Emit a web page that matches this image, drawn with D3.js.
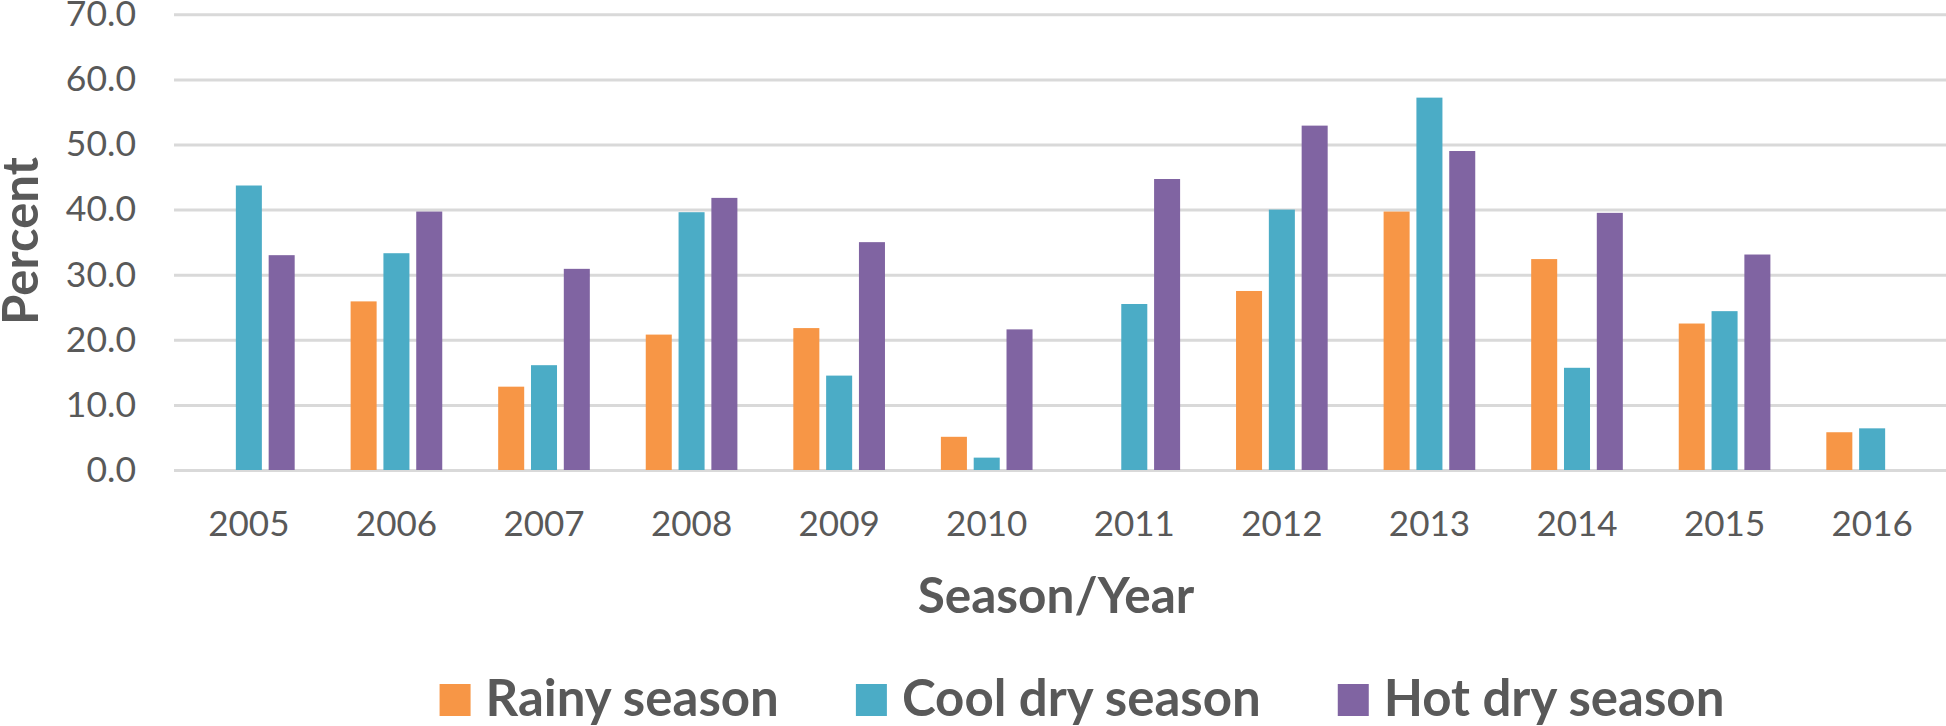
<!DOCTYPE html>
<html>
<head>
<meta charset="utf-8">
<script src="https://cdn.jsdelivr.net/npm/d3@7"></script>
<style>
  body { margin: 0; background: #fff; }
  text { font-family: Lato, "Open Sans", sans-serif; fill: #595959; }
</style>
</head>
<body>
<div id="vis"></div>
<script>
// data
var years = ["2005","2006","2007","2008","2009","2010","2011","2012","2013","2014","2015","2016"];
var seriesNames = ["Rainy season", "Cool dry season", "Hot dry season"];
var seriesColors = ["#F79646", "#4BACC6", "#8064A2"];
var rainy   = [null, 25.9, 12.8, 20.8, 21.8, 5.1, null, 27.5, 39.7, 32.4, 22.5, 5.8];
var coolDry = [43.7, 33.3, 16.1, 39.6, 14.5, 1.9, 25.5, 40.0, 57.2, 15.7, 24.4, 6.4];
var hotDry  = [33.0, 39.7, 30.9, 41.8, 35.0, 21.6, 44.7, 52.9, 49.0, 39.5, 33.1, null];
var yTicks = [0, 10, 20, 30, 40, 50, 60, 70];

var width = 1946, height = 726;
var svg = d3.select("#vis").append("svg")
    .attr("width", width)
    .attr("height", height);

var x0 = d3.scaleBand()
    .domain(years)
    .range([175, 1946])
    .paddingInner(0.379)
    .paddingOuter(0.19);

var x1 = d3.scaleBand()
    .domain(seriesNames)
    .range([0, x0.bandwidth()])
    .paddingInner(0.207);

var y = d3.scaleLinear()
    .domain([0, 70])
    .range([470, 14.3]);

// gridlines + y labels
var yAxis = d3.axisLeft(y)
    .tickValues(yTicks)
    .tickSize(-(1946 - 174))
    .tickPadding(38)
    .tickFormat(d3.format(".1f"));

var gy = svg.append("g")
    .attr("transform", "translate(174,0)")
    .call(yAxis);
gy.select(".domain").remove();
gy.selectAll(".tick line")
    .attr("stroke", "#d9d9d9")
    .attr("stroke-width", 3);
gy.selectAll(".tick text")
    .attr("font-size", 35.5)
    .attr("fill", "#595959")
    .style("font-family", "Lato, sans-serif");

// x axis labels
var xAxis = d3.axisBottom(x0).tickSize(0).tickPadding(0);
var gx = svg.append("g")
    .attr("transform", "translate(0,470)")
    .call(xAxis);
gx.select(".domain").remove();
gx.selectAll(".tick text")
    .attr("font-size", 35)
    .attr("fill", "#595959")
    .attr("dy", null)
    .attr("y", 66)
    .style("font-family", "Lato, sans-serif");

// bars
var rows = years.map(function(yr, i) {
    return {
        year: yr,
        values: [
            {name: seriesNames[0], value: rainy[i]},
            {name: seriesNames[1], value: coolDry[i]},
            {name: seriesNames[2], value: hotDry[i]}
        ]
    };
});

var color = d3.scaleOrdinal().domain(seriesNames).range(seriesColors);

svg.append("g").selectAll("g")
    .data(rows)
    .enter()
    .append("g")
    .attr("transform", function(d) { return "translate(" + x0(d.year) + ",0)"; })
    .selectAll("rect")
    .data(function(d) { return d.values.filter(function(v) { return v.value !== null; }); })
    .enter()
    .append("rect")
    .attr("x", function(d) { return x1(d.name); })
    .attr("y", function(d) { return y(d.value); })
    .attr("width", x1.bandwidth())
    .attr("height", function(d) { return y(0) - y(d.value); })
    .attr("fill", function(d) { return color(d.name); });

// axis titles
svg.append("text")
    .attr("transform", "translate(38,241) rotate(-90)")
    .attr("text-anchor", "middle")
    .attr("font-size", 49)
    .attr("font-weight", "bold")
    .text("Percent");

svg.append("text")
    .attr("x", 1056)
    .attr("y", 613)
    .attr("text-anchor", "middle")
    .attr("font-size", 49.5)
    .attr("font-weight", "bold")
    .text("Season/Year");

// legend
var legend = svg.append("g");
var items = legend.selectAll("g")
    .data(seriesNames)
    .enter()
    .append("g");

items.append("rect")
    .attr("width", 31)
    .attr("height", 32)
    .attr("y", 684)
    .attr("fill", function(d) { return color(d); });

items.append("text")
    .attr("x", 46)
    .attr("y", 716)
    .attr("font-size", 51)
    .attr("font-weight", "bold")
    .text(function(d) { return d; });

var cursor = 0;
items.each(function() {
    var w = d3.select(this).select("text").node().getComputedTextLength();
    d3.select(this).attr("transform", "translate(" + cursor + ",0)");
    cursor += 46 + w + 77;
});
var total = cursor - 77;
legend.attr("transform", "translate(" + (1082 - total / 2) + ",0)");
</script>
</body>
</html>
